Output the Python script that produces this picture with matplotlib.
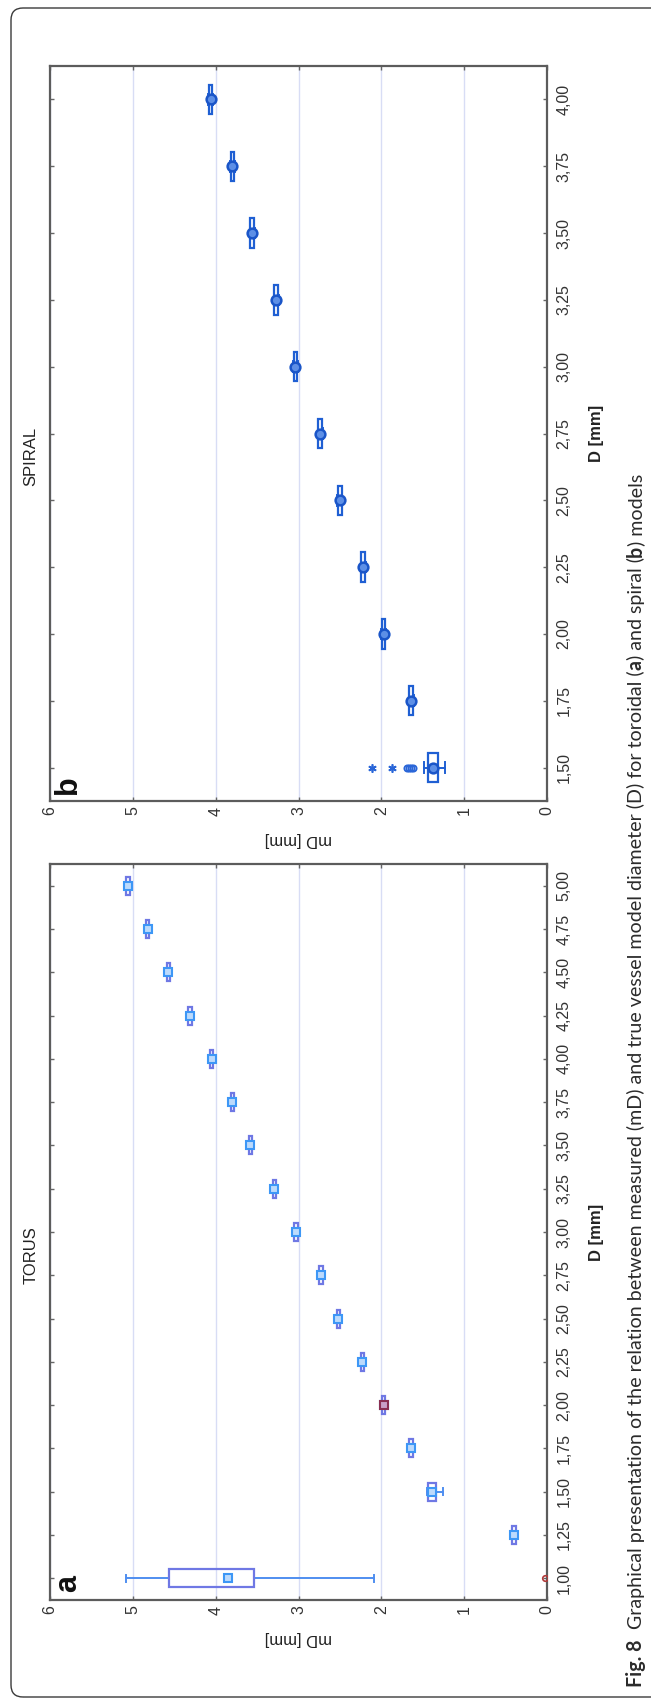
import matplotlib
matplotlib.use('Agg')
import matplotlib.pyplot as plt
from matplotlib.patches import Rectangle, FancyBboxPatch
from matplotlib.ticker import FuncFormatter

plt.rcParams['font.family'] = ['Liberation Sans', 'DejaVu Sans']

# TORUS (a): D [mm] and box statistics of mD [mm]
torus_D = [1.00, 1.25, 1.50, 1.75, 2.00, 2.25, 2.50, 2.75, 3.00,
           3.25, 3.50, 3.75, 4.00, 4.25, 4.50, 4.75, 5.00]
torus_med = [3.85, 0.40, 1.39, 1.64, 1.97, 2.23, 2.52, 2.73, 3.03,
             3.29, 3.58, 3.80, 4.05, 4.31, 4.57, 4.82, 5.06]
torus_q1 = [3.54, 0.38, 1.34, 1.62, 1.95, 2.21, 2.50, 2.71, 3.01,
            3.27, 3.56, 3.78, 4.03, 4.29, 4.55, 4.80, 5.04]
torus_q3 = [4.56, 0.42, 1.44, 1.66, 1.99, 2.25, 2.54, 2.75, 3.05,
            3.31, 3.60, 3.82, 4.07, 4.33, 4.59, 4.84, 5.08]
torus_lo = [2.09, 0.36, 1.25, 1.60, 1.94, 2.20, 2.48, 2.70, 3.00,
            3.26, 3.55, 3.77, 4.02, 4.28, 4.54, 4.79, 5.03]
torus_hi = [5.08, 0.44, 1.45, 1.68, 2.00, 2.26, 2.56, 2.76, 3.06,
            3.32, 3.61, 3.83, 4.08, 4.34, 4.60, 4.85, 5.09]
torus_out_D = [1.00]
torus_out = [0.02]

# SPIRAL (b)
spiral_D = [1.50, 1.75, 2.00, 2.25, 2.50, 2.75, 3.00, 3.25, 3.50, 3.75, 4.00]
spiral_med = [1.38, 1.64, 1.97, 2.22, 2.50, 2.74, 3.04, 3.27, 3.56, 3.80, 4.06]
spiral_q1 = [1.32, 1.62, 1.95, 2.20, 2.48, 2.72, 3.02, 3.25, 3.54, 3.78, 4.04]
spiral_q3 = [1.44, 1.66, 1.99, 2.24, 2.52, 2.76, 3.06, 3.29, 3.58, 3.82, 4.08]
spiral_lo = [1.23, 1.61, 1.94, 2.19, 2.47, 2.71, 3.01, 3.24, 3.53, 3.77, 4.03]
spiral_hi = [1.49, 1.67, 2.00, 2.25, 2.53, 2.77, 3.07, 3.30, 3.59, 3.83, 4.09]
spiral_out_D = [1.50, 1.50, 1.50, 1.50]
spiral_out = [1.62, 1.64, 1.66, 1.69]
spiral_ext_D = [1.50, 1.50]
spiral_ext = [1.87, 2.11]

mD_ticks = [0, 1, 2, 3, 4, 5, 6]
torus_ticks = torus_D
spiral_ticks = spiral_D

W, H = 651, 1700
fig = plt.figure(figsize=(W / 100, H / 100), dpi=100)


def px_rect(left, top, right, bottom):
    return [left / W, 1 - bottom / H, (right - left) / W, (bottom - top) / H]


def comma(v, pos):
    return f"{v:.2f}".replace('.', ',')


def panel(ax, D, med, q1, q3, lo, hi, ylim, yticks, title, letter,
          box_c, whisk_c, med_kw, box_h, cap_h):
    ax.set_xlim(6, 0)
    ax.set_ylim(*ylim)
    ax.set_xticks(mD_ticks)
    ax.set_yticks(yticks)
    ax.yaxis.set_major_formatter(FuncFormatter(comma))
    ax.set_axisbelow(True)
    ax.grid(axis='x', color='#d8ddf5', lw=1.0)
    for s in ax.spines.values():
        s.set_color('#5c5c5c')
        s.set_linewidth(1.6)
    ax.tick_params(axis='both', direction='in', length=3, width=1,
                   color='#666666', labelsize=11.5, labelcolor='#333333',
                   top=True, bottom=True, left=True, right=True,
                   labelleft=False, labelright=True)
    ax.tick_params(axis='x', labelrotation=90, pad=4)
    ax.tick_params(axis='y', labelrotation=90, pad=7)
    for lab in ax.get_yticklabels():
        lab.set_va('center')

    for d, m, a, b, l, h in zip(D, med, q1, q3, lo, hi):
        ax.plot([l, a], [d, d], color=whisk_c, lw=1.4, zorder=3)
        ax.plot([b, h], [d, d], color=whisk_c, lw=1.4, zorder=3)
        ax.plot([l, l], [d - cap_h, d + cap_h], color=whisk_c, lw=1.4, zorder=3)
        ax.plot([h, h], [d - cap_h, d + cap_h], color=whisk_c, lw=1.4, zorder=3)
        ax.add_patch(Rectangle((a, d - box_h), b - a, 2 * box_h, fill=False,
                               edgecolor=box_c, lw=1.6, zorder=4))
        ax.plot([m], [d], zorder=5, **med_kw)

    ax.set_xlabel('mD [mm]', rotation=180, fontsize=12, color='#222222')
    ax.xaxis.set_label_coords(0.5, -0.052)
    ax.xaxis.label.set_va('center')
    ax.set_ylabel('D [mm]', rotation=90, fontsize=12, fontweight='bold',
                  color='#222222')
    ax.yaxis.set_label_position('right')
    ax.yaxis.set_label_coords(1.099, 0.5)
    ax.yaxis.label.set_va('center')
    ax.text(-0.038, 0.469, title, rotation=90, transform=ax.transAxes,
            ha='center', va='center', fontsize=12, color='#222222')
    ax.text(0.037, 0.022, letter, rotation=90, transform=ax.transAxes,
            ha='center', va='center', fontsize=22, fontweight='bold',
            color='#111111')


# panel b (SPIRAL) on top, panel a (TORUS) below
ax_b = fig.add_axes(px_rect(50, 66, 547, 801))
panel(ax_b, spiral_D, spiral_med, spiral_q1, spiral_q3, spiral_lo, spiral_hi,
      (1.375, 4.125), spiral_ticks, 'SPIRAL', 'b', '#1f5fd3', '#1f5fd3',
      dict(marker='o', ms=7, mfc='#5d8fe6', mec='#1a55c8', mew=1.8, ls='none'),
      0.055, 0.02)
ax_b.plot(spiral_out, spiral_out_D, ls='none', marker='o', ms=4.5, mfc='none',
          mec='#2a66d8', mew=1.3, zorder=5)
ax_b.plot(spiral_ext, spiral_ext_D, ls='none', marker=(6, 2, 0), ms=6,
          mec='#2a66d8', mew=1.2, zorder=5)

ax_a = fig.add_axes(px_rect(50, 864, 547, 1600))
panel(ax_a, torus_D, torus_med, torus_q1, torus_q3, torus_lo, torus_hi,
      (0.875, 5.125), torus_ticks, 'TORUS', 'a', '#6f78e4', '#4f8ef0',
      dict(marker='s', ms=6, mfc='#bcdafc', mec='#3d97f6', mew=1.5, ls='none'),
      0.052, 0.02)
# darker-red median marker at D = 2.00
i2 = torus_D.index(2.00)
ax_a.plot([torus_med[i2]], [torus_D[i2]], ls='none', marker='s', ms=6,
          mfc='#c9a0c8', mec='#8a2f52', mew=1.5, zorder=6)
ax_a.plot(torus_out, torus_out_D, ls='none', marker='o', ms=4, mfc='none',
          mec='#b03a3a', mew=1.2, zorder=5)

# outer rounded frame
frame = FancyBboxPatch((0.11, 0.03), 7.2, 16.89,
                       boxstyle='round,pad=0,rounding_size=0.12',
                       transform=fig.dpi_scale_trans, fill=False,
                       edgecolor='#3a3a3a', lw=1.0)
fig.patches.append(frame)

# caption, rotated, with bold parts (gap in px before each piece)
cap_pieces = [('Fig. 8', 'bold', 0),
              ('Graphical presentation of the relation between measured (mD) '
               'and true vessel model diameter (D) for toroidal (', 'normal', 9),
              ('a', 'bold', 0),
              (') and spiral (', 'normal', 0),
              ('b', 'bold', 0),
              (') models', 'normal', 0)]
cap_family = ['Lato', 'DejaVu Sans']
cap_x, cap_y0, cap_len = 642, 1687, 1205
r = fig.canvas.get_renderer()


def draw_caption(size):
    texts = []
    y = cap_y0
    for s, wgt, gap in cap_pieces:
        y -= gap * size / 12.0
        t = fig.text(cap_x / W, 1 - y / H, s, rotation=90, rotation_mode='anchor',
                     ha='left', va='baseline', fontsize=size, fontweight=wgt,
                     family=cap_family, color='#2b2b2b')
        bb = t.get_window_extent(r)
        y -= bb.height
        texts.append(t)
    return texts, cap_y0 - y


texts, total = draw_caption(12)
for t in texts:
    t.remove()
draw_caption(12 * cap_len / total)

fig.savefig('out.png', dpi=100)
